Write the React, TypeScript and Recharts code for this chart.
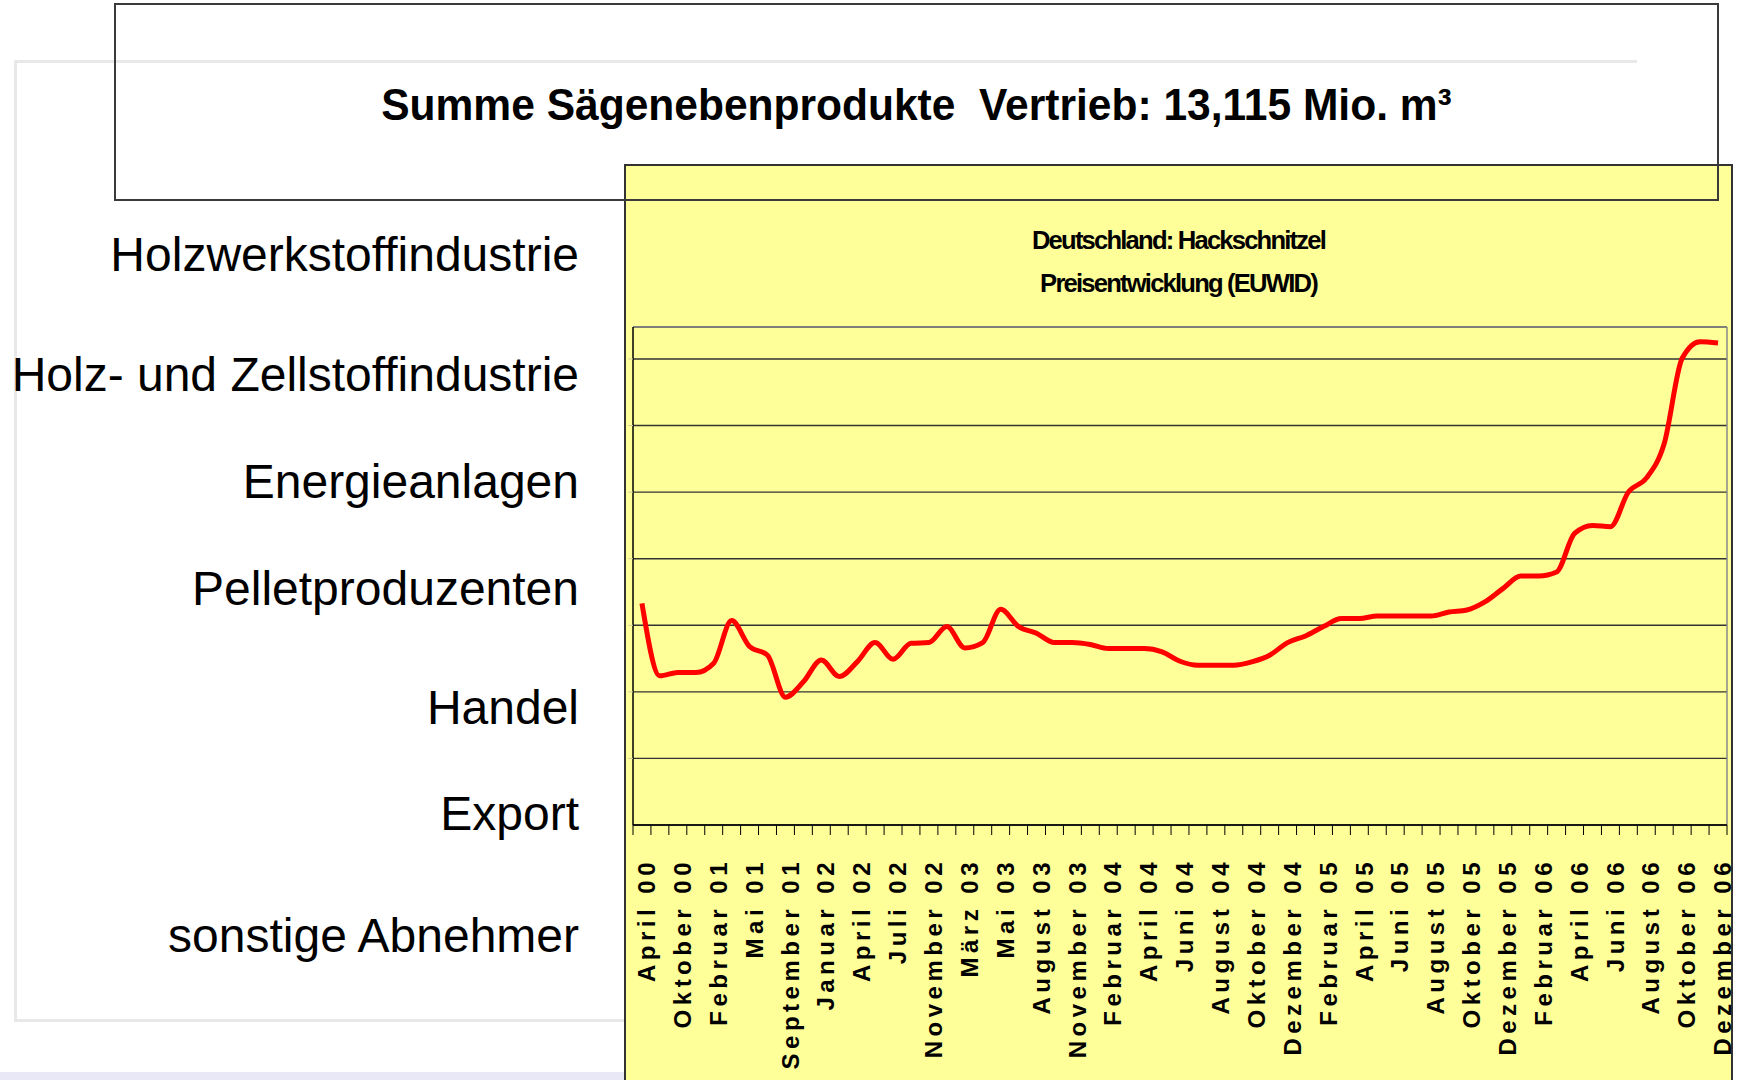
import React from 'react';
import {
  LineChart,
  Line,
  CartesianGrid,
  XAxis,
  YAxis,
  ReferenceLine,
} from 'recharts';

// EUWID Hackschnitzel price, one entry per report date (labels shown on every 2nd)
const months = [
  'April 00', 'Juli 00', 'Oktober 00', 'Dezember 00', 'Februar 01', 'März 01', 'Mai 01', 'Juli 01',
  'September 01', 'November 01', 'Januar 02', 'Februar 02', 'April 02', 'Mai 02', 'Juli 02', 'September 02',
  'November 02', 'Januar 03', 'März 03', 'April 03', 'Mai 03', 'Juni 03', 'August 03', 'September 03',
  'November 03', 'Dezember 03', 'Februar 04', 'März 04', 'April 04', 'Mai 04', 'Juni 04', 'Juli 04',
  'August 04', 'September 04', 'Oktober 04', 'November 04', 'Dezember 04', 'Januar 05', 'Februar 05', 'März 05',
  'April 05', 'Mai 05', 'Juni 05', 'Juli 05', 'August 05', 'September 05', 'Oktober 05', 'November 05',
  'Dezember 05', 'Januar 06', 'Februar 06', 'März 06', 'April 06', 'Mai 06', 'Juni 06', 'Juli 06',
  'August 06', 'September 06', 'Oktober 06', 'November 06', 'Dezember 06',
];

const prices = [
  33.3, 22.4, 22.9, 22.9, 24.3, 30.7, 26.8, 25.5,
  19.2, 21.5, 24.8, 22.3, 24.5, 27.4, 24.9, 27.3,
  27.4, 29.8, 26.6, 27.4, 32.4, 29.8, 28.8, 27.4,
  27.4, 27.1, 26.5, 26.5, 26.5, 26.0, 24.6, 24.0,
  24.0, 24.0, 24.5, 25.5, 27.4, 28.4, 29.8, 31.0,
  31.0, 31.4, 31.4, 31.4, 31.4, 32.0, 32.3, 33.5,
  35.5, 37.4, 37.4, 38.0, 43.8, 45.0, 44.8, 50.0,
  52.1, 57.3, 70.1, 72.6, 72.4,
];

const gridSteps = [10, 20, 30, 40, 50, 60, 70];
const yMax = 74.8;

const abnehmer = [
  'Holzwerkstoffindustrie',
  'Holz- und Zellstoffindustrie',
  'Energieanlagen',
  'Pelletproduzenten',
  'Handel',
  'Export',
  'sonstige Abnehmer',
];

const title = 'Summe Sägenebenprodukte  Vertrieb: 13,115 Mio. m³';
const chartTitle = ['Deutschland: Hackschnitzel', 'Preisentwicklung (EUWID)'];

const data = months.map((m, i) => ({ i, month: m, price: prices[i] }));
const lastIndex = months.length - 1;
const xDomain = [-0.5, lastIndex + 0.5];
const labelTicks = months.map((_, i) => i).filter((i) => i % 2 === 0);
const boundaryTicks = [...months.map((_, i) => i - 0.5), lastIndex + 0.5];

// vertical centres of the left-hand labels
const labelCentres = [255, 375, 482, 589, 708, 814, 936];

const font = '"Liberation Sans", Arial, sans-serif';

function MonthTick({ x, y, payload }: any) {
  const ty = y + 23;
  return (
    <text
      x={x}
      y={ty}
      dy='0.55em'
      transform={`rotate(-90, ${x}, ${ty})`}
      textAnchor='end'
      fill='#000'
      style={{ fontFamily: font, fontWeight: 'bold', fontSize: 24, letterSpacing: '4.5px' }}
    >
      {months[payload.value]}
    </text>
  );
}

const NoTick = () => null;

function App() {
  return (
    <div
      style={{
        position: 'absolute',
        left: 0,
        top: 0,
        width: 1747,
        height: 1080,
        overflow: 'hidden',
        background: '#fff',
        fontFamily: font,
      }}
    >
      {/* faint slide frame behind everything */}
      <div
        style={{
          position: 'absolute',
          left: 14,
          top: 60,
          width: 1620,
          height: 956,
          borderTop: '3px solid #e8e8e8',
          borderLeft: '3px solid #e8e8e8',
          borderBottom: '3px solid #e8e8e8',
        }}
      />
      <div style={{ position: 'absolute', left: 0, top: 1072, width: 625, height: 8, background: '#e8e8f6' }} />

      {abnehmer.map((name, i) => (
        <div
          key={name}
          style={{
            position: 'absolute',
            right: 1747 - 579,
            top: labelCentres[i] - 24,
            fontSize: 48,
            lineHeight: '48px',
            whiteSpace: 'nowrap',
            color: '#000',
          }}
        >
          {name}
        </div>
      ))}

      {/* yellow chart box */}
      <div
        style={{
          position: 'absolute',
          left: 624,
          top: 164,
          width: 1109,
          height: 940,
          background: '#ffff99',
          border: '2px solid #333',
          boxSizing: 'border-box',
        }}
      />
      <div
        style={{
          position: 'absolute',
          left: 625,
          top: 219,
          width: 1107,
          textAlign: 'center',
          fontWeight: 'bold',
          fontSize: 25.6,
          lineHeight: '43px',
          letterSpacing: '-1.8px',
          color: '#000',
        }}
      >
        {chartTitle.map((t) => (
          <div key={t}>{t}</div>
        ))}
      </div>

      <div style={{ position: 'absolute', left: 625, top: 165 }}>
        <LineChart
          width={1120}
          height={915}
          data={data}
          margin={{ top: 162, right: 18, bottom: 0, left: 0 }}
        >
          <XAxis
            xAxisId='b'
            type='number'
            dataKey='i'
            domain={xDomain}
            ticks={labelTicks}
            interval={0}
            tick={MonthTick}
            tickSize={0}
            tickMargin={0}
            height={245}
            axisLine={false}
            tickLine={false}
            allowDataOverflow
          />
          <XAxis
            xAxisId='a'
            type='number'
            dataKey='i'
            domain={xDomain}
            ticks={boundaryTicks}
            interval={0}
            tick={NoTick}
            tickSize={10}
            height={10}
            axisLine={{ stroke: '#000', strokeWidth: 1.5 }}
            tickLine={{ stroke: '#000', strokeWidth: 1 }}
            allowDataOverflow
          />
          <YAxis
            type='number'
            domain={[0, yMax]}
            ticks={gridSteps}
            interval={0}
            tick={NoTick}
            tickSize={5}
            width={8}
            axisLine={{ stroke: '#000', strokeWidth: 1.5 }}
            tickLine={{ stroke: '#d0d0a0' }}
            allowDataOverflow
          />
          <CartesianGrid xAxisId='b' vertical={false} stroke='#333' strokeWidth={1.4} />
          <ReferenceLine xAxisId='b' y={yMax} stroke='#888' strokeWidth={1.5} />
          <ReferenceLine xAxisId='b' x={lastIndex + 0.5} stroke='#888' strokeWidth={1.5} />
          <Line
            xAxisId='b'
            type='monotone'
            dataKey='price'
            stroke='#ff0000'
            strokeWidth={5}
            dot={false}
            isAnimationActive={false}
          />
        </LineChart>
      </div>

      {/* title frame sits on top of the yellow box */}
      <div
        style={{
          position: 'absolute',
          left: 114,
          top: 3,
          width: 1605,
          height: 198,
          border: '2.5px solid #3a3a3a',
          boxSizing: 'border-box',
        }}
      />
      <div
        style={{
          position: 'absolute',
          left: 115,
          top: 82,
          width: 1603,
          textAlign: 'center',
          fontWeight: 'bold',
          fontSize: 45,
          lineHeight: '45px',
          whiteSpace: 'pre',
          transform: 'scaleX(0.945)',
          color: '#000',
        }}
      >
        {title}
      </div>
    </div>
  );
}

export default App;
